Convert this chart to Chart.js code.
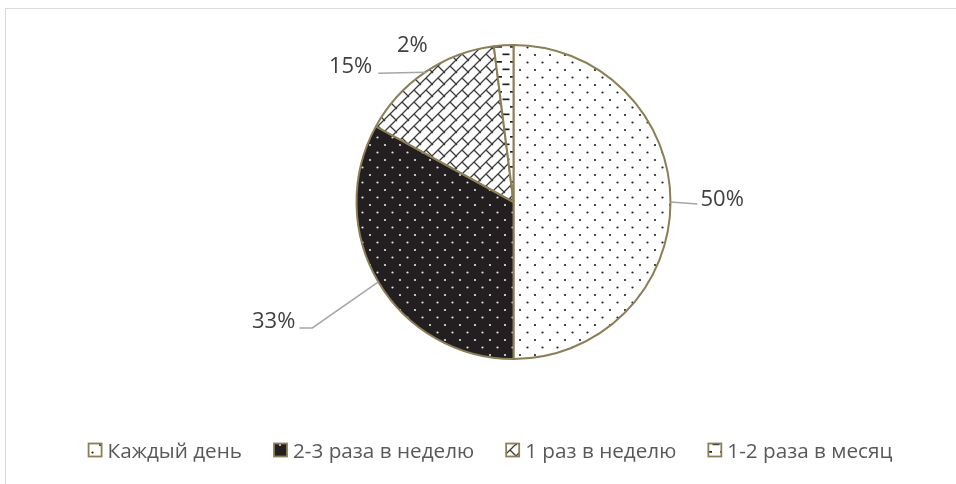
<!DOCTYPE html>
<html>
<head>
<meta charset="utf-8">
<script src="https://cdn.jsdelivr.net/npm/chart.js@4"></script>
<style>
  html, body { margin: 0; padding: 0; background: #fff; }
  #wrap { position: relative; width: 956px; height: 484px; overflow: hidden; }
  #frame { position: absolute; left: 5px; top: 8px; width: 980px; height: 500px;
           border-left: 1.5px solid #d9d9d9; border-top: 1.5px solid #d9d9d9; }
  canvas { position: absolute; left: 0; top: 0; }
</style>
</head>
<body>
<div id="wrap">
  <div id="frame"></div>
  <canvas id="pieChart" width="956" height="484"></canvas>
</div>
<script>
const categories = ["Каждый день", "2-3 раза в неделю", "1 раз в неделю", "1-2 раза в месяц"];
const shares = [50, 33, 15, 2];
const shareLabels = ["50%", "33%", "15%", "2%"];

const edgeColor = "#8b7f57";
const canvas = document.getElementById("pieChart");
const ctx = canvas.getContext("2d");

// small tiled fills like the office hatch patterns
function makePattern(size, draw) {
  const c = document.createElement("canvas");
  c.width = size;
  c.height = size;
  const g = c.getContext("2d");
  draw(g, size);
  return ctx.createPattern(c, "repeat");
}

function dots(bg, fg) {
  return makePattern(15, (g, s) => {
    g.fillStyle = bg;
    g.fillRect(0, 0, s, s);
    g.fillStyle = fg;
    [[2.5, 2.5], [10, 10]].forEach(([x, y]) => {
      g.beginPath();
      g.arc(x, y, 1.1, 0, Math.PI * 2);
      g.fill();
    });
  });
}

const brick = makePattern(12, (g, s) => {
  g.fillStyle = "#fff";
  g.fillRect(0, 0, s, s);
  g.strokeStyle = "#3a3a3a";
  g.lineWidth = 1.3;
  g.beginPath();
  g.moveTo(-1, s + 1);
  g.lineTo(s + 1, -1);
  g.moveTo(s / 2, s / 2);
  g.lineTo(s + 1, s + 1);
  g.moveTo(-1, -1);
  g.lineTo(1, 1);
  g.stroke();
});

const dashes = makePattern(15, (g, s) => {
  g.fillStyle = "#fff";
  g.fillRect(0, 0, s, s);
  g.fillStyle = "#222";
  g.fillRect(0, 1, 7, 1.7);
  g.fillRect(7.5, 8.5, 7, 1.7);
});

const fills = [dots("#fff", "#222"), dots("#231f20", "#e6e6e6"), brick, dashes];

// where each percentage sits relative to the slice's outer edge
const labelPlacement = [
  { text: [30, 4], align: "left", leader: [[27, 2]] },
  { text: [-83, 46], align: "right", leader: [[-66, 46], [-79, 46]] },
  { text: [-53, 1], align: "right", leader: [[-47, 1]] },
  { text: [-76, 7], align: "right", leader: [] }
];

const percentLabels = {
  id: "percentLabels",
  afterDatasetsDraw(chart) {
    const c = chart.ctx;
    const arcs = chart.getDatasetMeta(0).data;
    c.save();
    c.font = '22px "Open Sans"';
    c.fillStyle = "#404040";
    c.strokeStyle = "#a6a6a6";
    c.lineWidth = 1.5;
    c.textBaseline = "alphabetic";
    arcs.forEach((arc, i) => {
      const { x, y, startAngle, endAngle, outerRadius } = arc.getProps(["x", "y", "startAngle", "endAngle", "outerRadius"]);
      const mid = (startAngle + endAngle) / 2;
      const ex = x + Math.cos(mid) * outerRadius;
      const ey = y + Math.sin(mid) * outerRadius;
      const p = labelPlacement[i];
      if (p.leader.length) {
        c.beginPath();
        c.moveTo(ex, ey);
        p.leader.forEach(([dx, dy]) => c.lineTo(ex + dx, ey + dy));
        c.stroke();
      }
      c.textAlign = p.align;
      c.fillText(shareLabels[i], ex + p.text[0], ey + p.text[1]);
    });
    c.restore();
  }
};

const legendLayout = { centerX: 490.5, baseline: 458, box: 13, boxGap: 6, itemGap: 32 };

const bottomLegend = {
  id: "bottomLegend",
  afterDraw(chart) {
    const c = chart.ctx;
    c.save();
    c.font = '20.7px "Open Sans"';
    const widths = categories.map(t => c.measureText(t).width);
    const L = legendLayout;
    const total = widths.reduce((a, w) => a + L.box + L.boxGap + w, 0) + L.itemGap * (categories.length - 1);
    let x = L.centerX - total / 2;
    const boxTop = L.baseline - 14.5;
    categories.forEach((t, i) => {
      c.fillStyle = fills[i];
      c.fillRect(x, boxTop, L.box, L.box);
      c.strokeStyle = edgeColor;
      c.lineWidth = 1.8;
      c.strokeRect(x, boxTop, L.box, L.box);
      c.fillStyle = "#595959";
      c.textAlign = "left";
      c.textBaseline = "alphabetic";
      c.fillText(t, x + L.box + L.boxGap, L.baseline);
      x += L.box + L.boxGap + widths[i] + L.itemGap;
    });
    c.restore();
  }
};

new Chart(ctx, {
  type: "pie",
  data: {
    labels: categories,
    datasets: [{
      data: shares,
      backgroundColor: fills,
      borderColor: edgeColor,
      borderWidth: 2,
      radius: 157
    }]
  },
  options: {
    responsive: false,
    animation: false,
    events: [],
    layout: {
      padding: { left: 356.5, right: 285.5, top: 45, bottom: 125 }
    },
    plugins: {
      legend: { display: false },
      tooltip: { enabled: false }
    }
  },
  plugins: [percentLabels, bottomLegend]
});
</script>
</body>
</html>
